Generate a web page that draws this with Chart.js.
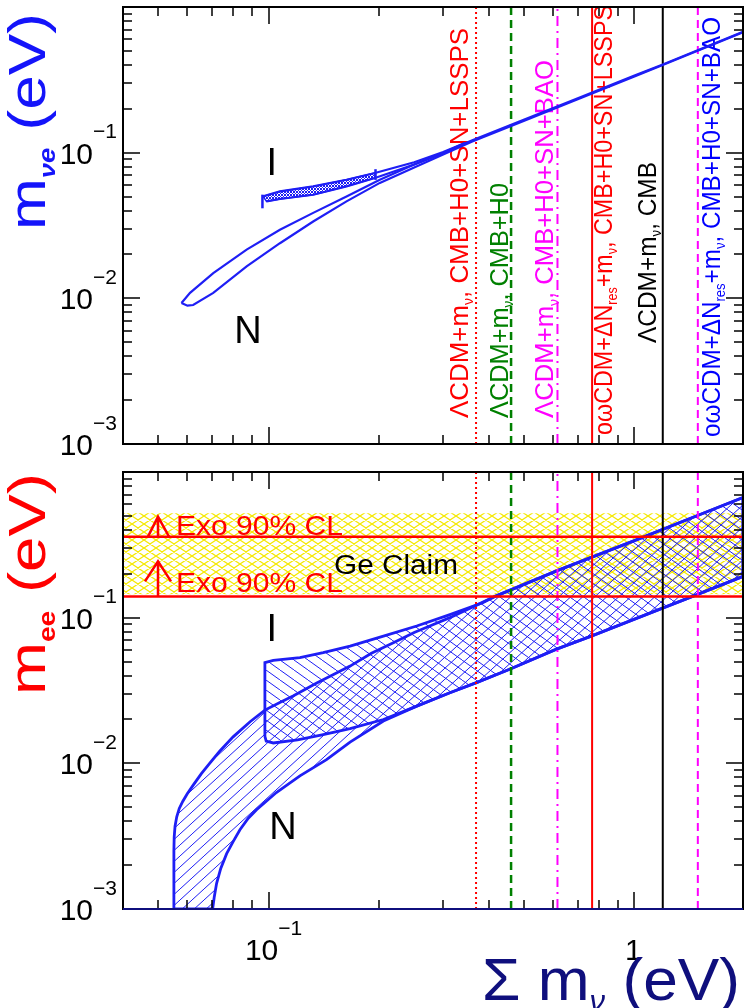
<!DOCTYPE html>
<html lang="en">
<head>
<meta charset="UTF-8">
<title>Neutrino mass bounds</title>
<script src="https://cdn.jsdelivr.net/npm/chart.js"></script>
<style>
  html, body { margin: 0; padding: 0; background: #fff; overflow: hidden; }
  #wrap { position: relative; width: 744px; height: 1008px; }
  canvas { position: absolute; left: 0; }
</style>
</head>
<body>
<div id="wrap">
  <canvas id="topChart" width="744" height="460" style="top:0"></canvas>
  <canvas id="botChart" width="744" height="548" style="top:460px"></canvas>
</div>
<script>
// axis ranges (eV)
const sumMin = 0.04, sumMax = 1.98;
const massMin = 0.001, massMax = 1;

// cosmological 95% bounds on the mass sum (eV)
const boundSums = [0.369, 0.46, 0.616, 0.766, 1.195, 1.49];
const boundLabels = [
  'ΛCDM+m_{ν}, CMB+H0+SN+LSSPS',
  'ΛCDM+m_{ν}, CMB+H0',
  'ΛCDM+m_{ν}, CMB+H0+SN+BAO',
  'oωCDM+ΔN_{res}+m_{ν}, CMB+H0+SN+LSSPS',
  'ΛCDM+m_{ν}, CMB',
  'oωCDM+ΔN_{res}+m_{ν}, CMB+H0+SN+BAO'
];

// top panel: m_nue (eV) vs sum (eV)
const betaNormUpper = [[0.0578,0.0093],[0.061,0.0109],[0.0706,0.0149],[0.0871,0.0216],[0.1074,0.0296],[0.1324,0.0386],[0.1633,0.0501],[0.2014,0.0652],[0.25,0.083],[0.30,0.100],[0.359,0.121],[0.5,0.169],[0.7,0.236],[1.0,0.338],[1.195,0.403],[1.5,0.508],[1.98,0.675]];
const betaNormLower = [[0.0578,0.0093],[0.0600,0.0089],[0.0622,0.0090],[0.0706,0.0109],[0.0871,0.0166],[0.1074,0.0239],[0.1324,0.0337],[0.1633,0.0463],[0.2014,0.062],[0.25,0.079],[0.30,0.097],[0.359,0.119],[0.5,0.166],[0.7,0.233],[1.0,0.334],[1.195,0.400],[1.5,0.504],[1.98,0.670]];
const betaInvUpper = [[0.0966,0.0501],[0.1074,0.0542],[0.1324,0.0587],[0.1633,0.0652],[0.1953,0.0725],[0.25,0.086],[0.30,0.101],[0.344,0.1166]];
const betaInvLower = [[0.0987,0.0463],[0.1074,0.0481],[0.1324,0.0514],[0.1633,0.0587],[0.1953,0.067],[0.25,0.083],[0.30,0.099],[0.344,0.1166]];
const betaInvCaps = [[[0.0962,0.0415],[0.0962,0.0515]], [[0.196,0.065],[0.196,0.077]]];

// bottom panel: m_ee (eV) vs sum (eV)
const eeNormUpper = [[0.0551,0.001],[0.0551,0.0025],[0.0552,0.0031],[0.0555,0.0037],[0.0561,0.0043],[0.0570,0.0049],[0.0583,0.0055],[0.0600,0.0062],[0.0625,0.0072],[0.0655,0.0085],[0.069,0.0100],[0.0735,0.0121],[0.080,0.0152],[0.089,0.0193],[0.0977,0.0232],[0.107,0.0261],[0.117,0.0291],[0.135,0.0355],[0.150,0.0405],[0.167,0.0465],[0.191,0.057],[0.22,0.0675],[0.25,0.079],[0.28,0.089],[0.313,0.100]];
const eeNormLower = [[0.0703,0.001],[0.0710,0.0012],[0.0721,0.0015],[0.0740,0.0019],[0.0768,0.0024],[0.080,0.0029],[0.0835,0.0035],[0.088,0.0042],[0.0927,0.0048],[0.105,0.0063],[0.1218,0.0082],[0.144,0.0106],[0.167,0.0140],[0.206,0.0195]];
const eeInvUpper = [[0.0977,0.0491],[0.103,0.0509],[0.1218,0.0531],[0.141,0.0575],[0.167,0.0638],[0.206,0.0748],[0.254,0.0876],[0.313,0.105],[0.386,0.127]];
const eeInvLower = [[0.0977,0.0153],[0.0985,0.0142],[0.103,0.0138],[0.12,0.0145],[0.14,0.0157],[0.167,0.0173],[0.206,0.0200]];
const eeCommonUpper = [[0.416,0.140],[0.62,0.212],[1.0,0.338],[1.56,0.527],[1.98,0.668]];
const eeCommonLower = [[0.254,0.0247],[0.313,0.0305],[0.37,0.0358],[0.456,0.0442],[0.61,0.0606],[0.762,0.0747],[1.17,0.114],[1.38,0.134],[1.98,0.192]];

// double beta decay limits (eV)
const exoLimits = [0.36, 0.14];
const geClaim = [0.145, 0.52];

// tick labels
const yTickValues = [0.001, 0.01, 0.1];
const yTickLabels = ['10^{−3}', '10^{−2}', '10^{−1}'];
const xTickValues = [0.1, 1];
const xTickLabels = ['10^{−1}', '1'];

const FONT = '"Liberation Sans", Arial, sans-serif';
const BLUE = 'rgb(30,30,245)';
const NAVY = 'rgb(15,15,125)';
const boundColors = ['#ff0000', '#008000', '#ff00ff', '#ff0000', '#000000', '#ff00ff'];
const boundDashes = [[2, 3], [8, 5], [10, 5, 2, 5], [], [], [8, 5]];
const labelColors = ['#ff0000', '#008000', '#ff00ff', '#ff0000', '#000000', '#0000ff'];

const pts = arr => arr.map(p => ({ x: p[0], y: p[1] }));
const rev = arr => arr.slice().reverse();

function hatch(ctx, color, w, h, dirs, lw) {
  const c = document.createElement('canvas');
  c.width = w; c.height = h;
  const g = c.getContext('2d');
  g.strokeStyle = color; g.lineWidth = lw;
  g.beginPath();
  for (let k = -1; k <= 1; k++) {
    if (dirs.includes('/')) { g.moveTo(k * w, h); g.lineTo(k * w + w, 0); }
    if (dirs.includes('\\')) { g.moveTo(k * w, 0); g.lineTo(k * w + w, h); }
  }
  g.stroke();
  return ctx.createPattern(c, 'repeat');
}

function parseRich(str) {
  const segs = [];
  const re = /([_^])\{([^}]*)\}/g;
  let m, last = 0;
  while ((m = re.exec(str))) {
    if (m.index > last) segs.push({ t: str.slice(last, m.index), k: '' });
    segs.push({ t: m[2], k: m[1] });
    last = re.lastIndex;
  }
  if (last < str.length) segs.push({ t: str.slice(last), k: '' });
  return segs;
}

// text with sub/superscripts, optionally rotated and stretched to a width
function drawRich(ctx, str, x, y, o) {
  const size = o.size;
  const segs = parseRich(str);
  const fontOf = s => s.k
    ? `${o.subStyle || ''} ${Math.round(size * (o.subScale || 0.6))}px ${FONT}`
    : `${o.style || ''} ${size}px ${FONT}`;
  let w = 0;
  for (const s of segs) { ctx.font = fontOf(s); s.w = ctx.measureText(s.t).width; w += s.w; }
  const sx = o.width ? o.width / w : 1;
  ctx.save();
  ctx.translate(x, y);
  if (o.rot) ctx.rotate(o.rot);
  let cx = o.align === 'right' ? -w * sx : o.align === 'center' ? -w * sx / 2 : 0;
  ctx.translate(cx, 0);
  ctx.scale(sx, 1);
  ctx.fillStyle = o.color || '#000';
  ctx.textAlign = 'left';
  ctx.textBaseline = 'alphabetic';
  cx = 0;
  for (const s of segs) {
    ctx.font = fontOf(s);
    const dy = s.k === '_' ? size * (o.subDy ?? 0.22) : s.k === '^' ? -size * (o.supDy ?? 0.5) : 0;
    ctx.fillText(s.t, cx, dy);
    cx += s.w;
  }
  ctx.restore();
}

function drawFrame(chart, bottomColor, withXLabels) {
  const { ctx, chartArea: a, scales: { x, y } } = chart;
  ctx.save();
  ctx.lineWidth = 1.5;
  ctx.strokeStyle = '#000';
  ctx.beginPath();
  for (let e = -2; e <= 0; e++) {
    for (let k = 1; k <= 9; k++) {
      const v = k * Math.pow(10, e);
      if (v <= sumMin * 1.001 || v >= sumMax) continue;
      const px = Math.round(x.getPixelForValue(v));
      const len = k === 1 ? 17 : 9;
      ctx.moveTo(px, a.top); ctx.lineTo(px, a.top + len);
      ctx.moveTo(px, a.bottom); ctx.lineTo(px, a.bottom - len);
    }
  }
  for (let e = -3; e <= -1; e++) {
    for (let k = 1; k <= 9; k++) {
      const v = k * Math.pow(10, e);
      if (v <= massMin * 1.001) continue;
      const py = Math.round(y.getPixelForValue(v));
      const len = k === 1 ? 17 : 9;
      ctx.moveTo(a.left, py); ctx.lineTo(a.left + len, py);
      ctx.moveTo(a.right, py); ctx.lineTo(a.right - len, py);
    }
  }
  ctx.stroke();
  ctx.lineWidth = 2;
  ctx.strokeRect(a.left, a.top, a.right - a.left, a.bottom - a.top);
  if (bottomColor) {
    ctx.strokeStyle = bottomColor;
    ctx.beginPath(); ctx.moveTo(a.left, a.bottom); ctx.lineTo(a.right, a.bottom); ctx.stroke();
  }
  yTickValues.forEach((v, i) => {
    const py = y.getPixelForValue(v);
    drawRich(ctx, yTickLabels[i], 117, py + 11, { size: 30, align: 'right', subScale: 0.7, supDy: 0.85 });
  });
  if (withXLabels) {
    xTickValues.forEach((v, i) => {
      const px = x.getPixelForValue(v);
      drawRich(ctx, xTickLabels[i], px + (i === 0 ? 5 : -1), a.bottom + 51, { size: 30, align: 'center', subScale: 0.7, supDy: 0.85 });
    });
  }
  ctx.restore();
}

function textAt(chart, str, vx, vy, size, color) {
  const { ctx, scales: { x, y } } = chart;
  drawRich(ctx, str, x.getPixelForValue(vx), y.getPixelForValue(vy), { size, color, align: 'center' });
}

function vLines(order) {
  return boundSums.map((v, i) => ({
    data: [{ x: v, y: massMin }, { x: v, y: massMax }],
    borderColor: boundColors[i], borderDash: boundDashes[i],
    borderWidth: i === 1 ? 2.5 : 2, fill: false, order
  }));
}

const baseOptions = padding => ({
  responsive: false, animation: false, devicePixelRatio: 1,
  layout: { padding },
  plugins: { legend: { display: false }, tooltip: { enabled: false } },
  elements: { point: { radius: 0, hoverRadius: 0 }, line: { tension: 0 } },
  scales: {
    x: { type: 'logarithmic', min: sumMin, max: sumMax, display: false },
    y: { type: 'logarithmic', min: massMin, max: massMax, display: false }
  }
});

// ---------- top panel ----------
const topCtx = document.getElementById('topChart').getContext('2d');
const invBetaPoly = pts([...betaInvUpper.slice(0, 5), ...rev(betaInvLower.slice(0, 5)), betaInvUpper[0]]);

new Chart(topCtx, {
  type: 'line',
  data: {
    datasets: [
      { data: pts(betaNormUpper), borderColor: BLUE, borderWidth: 2.2, fill: false, order: 1 },
      { data: pts(betaNormLower), borderColor: BLUE, borderWidth: 2.2, fill: false, order: 1 },
      { data: invBetaPoly, borderColor: BLUE, borderWidth: 1.5, fill: 'shape',
        backgroundColor: hatch(topCtx, BLUE, 3, 3, '/\\', 1), order: 1 },
      { data: pts(betaInvUpper), borderColor: BLUE, borderWidth: 2.2, fill: false, order: 1 },
      { data: pts(betaInvLower), borderColor: BLUE, borderWidth: 2.2, fill: false, order: 1 },
      ...betaInvCaps.map(c => ({ data: pts(c), borderColor: BLUE, borderWidth: 2.5, fill: false, order: 1 })),
      ...vLines(3)
    ]
  },
  options: baseOptions({ left: 123, top: 7, right: 1, bottom: 16 }),
  plugins: [{
    id: 'topDeco',
    beforeDatasetsDraw(chart) {
      const { ctx, scales: { x } } = chart;
      const offs = [-8, -3, -4, 20, -7, 22];
      const starts = [418, 418, 418, 435, 343, 437];
      const lens = [390, 235, 358, 430, 181, 420];
      boundSums.forEach((v, i) => {
        drawRich(ctx, boundLabels[i], x.getPixelForValue(v) + offs[i], starts[i],
          { size: 26, color: labelColors[i], rot: -Math.PI / 2, width: lens[i], subScale: 0.55, subDy: 0.2 });
      });
    },
    afterDraw(chart) {
      drawFrame(chart, null, false);
      const { ctx } = chart;
      textAt(chart, 'I', 0.1021, 0.0706, 38, '#000');
      textAt(chart, 'N', 0.0878, 0.00494, 38, '#000');
      drawRich(ctx, 'm_{νe} (eV)', 45, 230, { size: 52, color: 'rgb(20,20,250)', rot: -Math.PI / 2, width: 217,
        subStyle: 'italic bold', subScale: 0.45, subDy: 0.2 });
    }
  }]
});

// ---------- bottom panel ----------
const botCtx = document.getElementById('botChart').getContext('2d');
const normPoly = pts([...eeNormUpper, ...eeCommonUpper, ...rev(eeCommonLower), ...rev(eeNormLower), eeNormUpper[0]]);
const invPoly = pts([eeInvLower[0], ...eeInvUpper, ...eeCommonUpper, ...rev(eeCommonLower), ...rev(eeInvLower)]);
const gePoly = pts([[sumMin, geClaim[0]], [sumMax, geClaim[0]], [sumMax, geClaim[1]], [sumMin, geClaim[1]]]);

new Chart(botCtx, {
  type: 'line',
  data: {
    datasets: [
      ...exoLimits.map(v => ({ data: [{ x: sumMin, y: v }, { x: sumMax, y: v }],
        borderColor: '#ff0000', borderWidth: 2.5, fill: false, order: 0 })),
      ...vLines(1),
      { data: normPoly, borderColor: BLUE, borderWidth: 2.8, fill: 'shape',
        backgroundColor: hatch(botCtx, BLUE, 12, 11, '/', 1), order: 2 },
      { data: invPoly, borderColor: BLUE, borderWidth: 2.8, fill: 'shape',
        backgroundColor: hatch(botCtx, BLUE, 14, 10, '\\', 1), order: 2 },
      { data: gePoly, borderColor: 'rgba(0,0,0,0)', borderWidth: 0, fill: 'shape',
        backgroundColor: hatch(botCtx, '#f5e800', 12, 8, '/\\', 1.2), order: 4 }
    ]
  },
  options: baseOptions({ left: 123, top: 12, right: 1, bottom: 99 }),
  plugins: [{
    id: 'botDeco',
    afterDraw(chart) {
      drawFrame(chart, NAVY, true);
      const { ctx, chartArea: a, scales: { y } } = chart;
      // Exo arrows
      ctx.save();
      ctx.strokeStyle = '#ff0000'; ctx.lineWidth = 2.5;
      const p1 = y.getPixelForValue(exoLimits[0]);
      const p2 = y.getPixelForValue(exoLimits[1]);
      const ax = a.left + 35;
      ctx.beginPath();
      ctx.moveTo(ax - 10, p1); ctx.lineTo(ax, p1 - 20); ctx.lineTo(ax + 11, p1);
      ctx.moveTo(ax, p1 - 20); ctx.lineTo(ax, p1);
      ctx.moveTo(ax - 13, p2 - 15); ctx.lineTo(ax, p2 - 35); ctx.lineTo(ax + 13, p2 - 15);
      ctx.moveTo(ax, p2 - 35); ctx.lineTo(ax, p2);
      ctx.stroke();
      ctx.restore();
      drawRich(ctx, 'Exo 90% CL', a.left + 53, p1 - 2, { size: 28, color: '#ff0000', width: 167 });
      drawRich(ctx, 'Exo 90% CL', a.left + 53, p2 - 4, { size: 28, color: '#ff0000', width: 167 });
      drawRich(ctx, 'Ge Claim', 334, y.getPixelForValue(0.2), { size: 27, color: '#000', width: 124 });
      textAt(chart, 'I', 0.102, 0.0687, 38, '#000');
      textAt(chart, 'N', 0.1094, 0.003, 38, '#000');
      drawRich(ctx, 'm_{ee} (eV)', 45, 235, { size: 52, color: '#ff0000', rot: -Math.PI / 2, width: 222,
        subStyle: 'bold', subScale: 0.45, subDy: 0.2 });
      drawRich(ctx, 'Σ m_{ν} (eV)', 482, 540, { size: 60, color: NAVY, width: 258,
        subStyle: 'italic', subScale: 0.5, subDy: 0.18 });
    }
  }]
});
</script>
</body>
</html>
